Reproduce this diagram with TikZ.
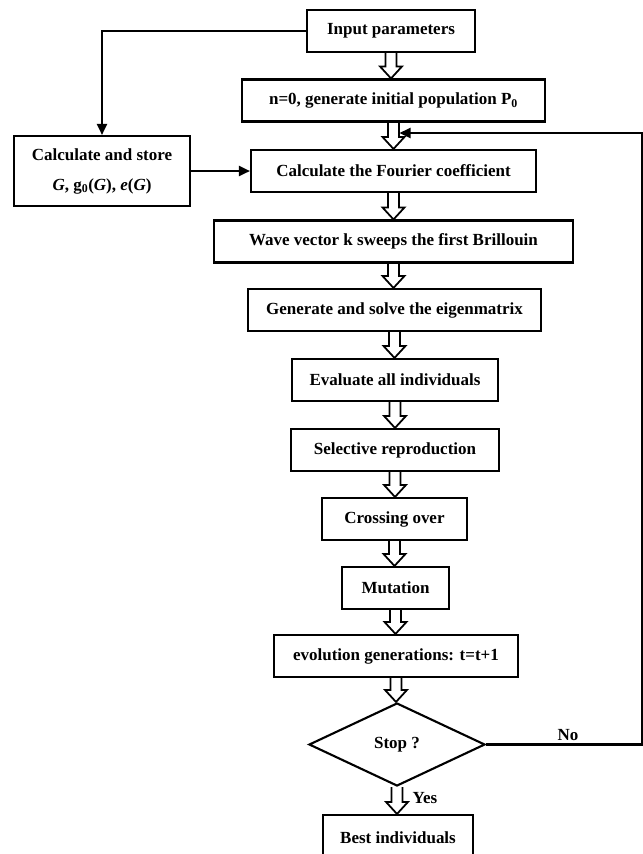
\documentclass[tikz,border=0pt]{standalone}
\usepackage{fontspec}
\setmainfont{Liberation Serif}
\usetikzlibrary{arrows.meta,shapes.geometric,calc}

\begin{document}
\begin{tikzpicture}[x=0.03cm, y=-0.03cm,
    box/.style={draw, line width=1.8pt, minimum height=1.26cm, inner sep=2pt,
        font=\fontsize{14.5}{17}\selectfont\bfseries},
    line/.style={line width=1.8pt, -{Triangle[length=3.3mm, width=3mm]}},
    hollow/.style={line width=1.5pt, line join=miter, to path={
        let \p1=(\tikztostart), \p2=(\tikztotarget) in
        (\x1-0.165cm,\y1) -- (\x1-0.165cm,\y2+0.36cm) -- (\x1-0.33cm,\y2+0.36cm) -- (\x1,\y2)
        -- (\x1+0.33cm,\y2+0.36cm) -- (\x1+0.165cm,\y2+0.36cm) -- (\x1+0.165cm,\y1)}},
    lbl/.style={font=\fontsize{14.5}{17}\selectfont\bfseries}]
        \useasboundingbox (0,0) rectangle (643,854);

        % we place the boxes of the main chain
        \node[box, minimum width=5.04cm] (input) at (391,31) {Input parameters};
        \node[box, minimum width=9.09cm] (init) at (393.5,100.5) {n=0, generate initial population P\textsubscript{0}};
        \node[box, minimum width=8.55cm] (fourier) at (393.5,171) {Calculate the Fourier coefficient};
        \node[box, minimum width=10.77cm] (wave) at (393.5,241.5) {Wave vector k sweeps the first Brillouin};
        \node[box, minimum width=8.79cm] (eigen) at (394.5,310) {Generate and solve the eigenmatrix};
        \node[box, minimum width=6.18cm] (evaluate) at (395,380) {Evaluate all individuals};
        \node[box, minimum width=6.24cm] (select) at (395,450) {Selective reproduction};
        \node[box, minimum width=4.35cm] (cross) at (394.5,519) {Crossing over};
        \node[box, minimum width=3.21cm] (mutate) at (395.5,588) {Mutation};
        \node[box, minimum width=7.32cm] (evolve) at (396,656) {evolution generations: t=t+1};
        \node[box, diamond, minimum width=5.28cm, minimum height=2.49cm, inner sep=0pt] (stop) at (397,744.5) {Stop ?};
        \node[box, minimum width=4.5cm, minimum height=1.38cm] (best) at (398,838) {Best individuals};

        % we add the side box
        \node[box, minimum width=5.28cm, minimum height=2.1cm, align=center,
            font=\fontsize{14.5}{25.6}\selectfont\bfseries] (store) at (102,171)
            {Calculate and store\\\textit{G}, g\textsubscript{0}(\textit{G}), \textit{e}(\textit{G})};

        % we draw the hollow arrows
        \foreach \a/\b in {input/init, init/fourier, fourier/wave, wave/eigen, eigen/evaluate,
                evaluate/select, select/cross, cross/mutate, mutate/evolve, evolve/stop, stop/best}
            \draw[hollow] (\a.south) to (\b.north);

        % we draw the side connectors and the loop back
        \draw[line] (input.west) -| (store.north);
        \draw[line] (store.east) -- (fourier.west);
        \coordinate (loopin) at (399.5,133);
        \coordinate (rightside) at (642,744.5);
        \draw[line] (stop.east) -- (rightside) |- (loopin);

        \node[lbl] (no) at (568,735) {No};
        \node[lbl] (yes) at (425,798) {Yes};
    \end{tikzpicture}
\end{document}
